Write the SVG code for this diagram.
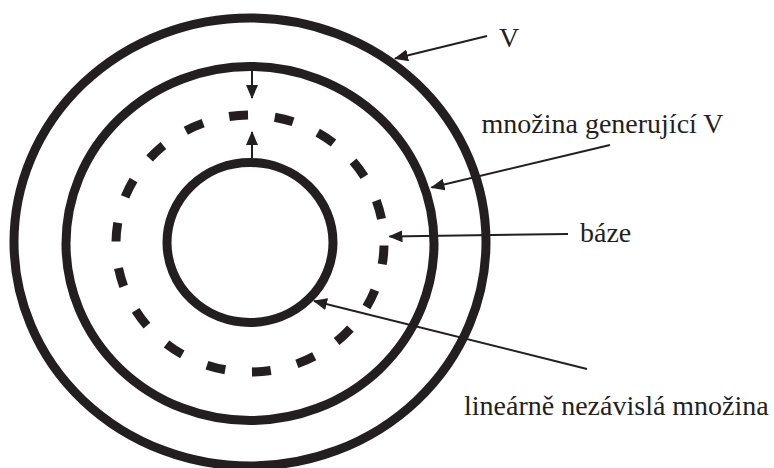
<svg xmlns="http://www.w3.org/2000/svg" width="774" height="468" viewBox="0 0 774 468">
<style>
.ring{fill:none;stroke:#231f20;stroke-width:9}
.dash{fill:none;stroke:#231f20;stroke-width:9;stroke-dasharray:19 27;stroke-dashoffset:-2}
.conn{fill:none;stroke:#231f20;stroke-width:2}
.lbl{font-family:'Liberation Serif',serif;font-size:28px;fill:#231f20}
</style>
<defs>
<marker id="ah" markerUnits="userSpaceOnUse" markerWidth="14" markerHeight="12" refX="13" refY="6" orient="auto" viewBox="0 0 14 12">
<path d="M0,0 L14,6 L0,12 Z" fill="#231f20"/>
</marker>
</defs>
<rect width="774" height="468" fill="#ffffff"/>
<g id="space-V"><ellipse class="ring" cx="250" cy="242" rx="236" ry="224"/></g>
<g id="generating-set"><ellipse class="ring" cx="250" cy="243.5" rx="184" ry="177"/></g>
<g id="basis"><ellipse class="dash" cx="250" cy="243.5" rx="134" ry="128.5" pathLength="828"/></g>
<g id="independent-set"><ellipse class="ring" cx="250" cy="242.5" rx="83" ry="80"/></g>
<g id="connectors">
<line class="conn" x1="487" y1="36" x2="395" y2="58.5" marker-end="url(#ah)"/>
<line class="conn" x1="610" y1="145" x2="431.5" y2="187.5" marker-end="url(#ah)"/>
<line class="conn" x1="568" y1="234" x2="389.5" y2="236.5" marker-end="url(#ah)"/>
<line class="conn" x1="587" y1="369" x2="314" y2="301" marker-end="url(#ah)"/>
<line class="conn" x1="252" y1="70" x2="252" y2="98" marker-end="url(#ah)"/>
<line class="conn" x1="252" y1="158" x2="252" y2="132" marker-end="url(#ah)"/>
</g>
<g id="label-V"><text class="lbl" font-family="Liberation Serif, serif" x="499" y="46.5">V</text></g>
<g id="label-gen"><text class="lbl" font-family="Liberation Serif, serif" x="481.5" y="133">množina generující V</text></g>
<g id="label-basis"><text class="lbl" font-family="Liberation Serif, serif" x="580" y="241.5">báze</text></g>
<g id="label-indep"><text class="lbl" font-family="Liberation Serif, serif" x="464" y="415">lineárně nezávislá množina</text></g>
</svg>
